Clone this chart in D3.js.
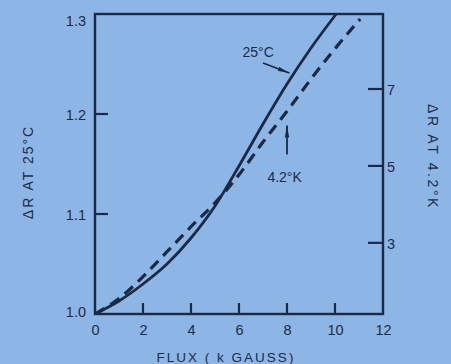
<!DOCTYPE html>
<html>
<head>
<meta charset="utf-8">
<script src="https://cdn.jsdelivr.net/npm/d3@7"></script>
<style>
  html, body { margin: 0; padding: 0; background: #8db6e7; }
  svg { display: block; }
  text { font-family: "Liberation Sans", Arial, sans-serif; fill: #1e2a47; }
</style>
</head>
<body>
<div id="chart"></div>
<script>
// ---- data ----
const fluxTicks = [0, 2, 4, 6, 8, 10, 12];
const leftTicks = [1.0, 1.1, 1.2, 1.3];
const rightTicks = [3, 5, 7];

const flux25C   = [0, 1, 2, 3, 4, 5, 6, 7, 8, 9, 10.05];
const dR25C     = [1.000, 1.013, 1.030, 1.050, 1.076, 1.108, 1.148, 1.190, 1.230, 1.266, 1.300];

const flux42K   = [0, 1, 2, 3, 4, 5, 6, 7, 8, 9, 10, 11.05];
const dR42K     = [1.15, 1.55, 2.12, 2.77, 3.42, 4.04, 4.77, 5.62, 6.42, 7.26, 8.05, 8.82];

const xTitle = "FLUX ( k GAUSS)";
const yLeftTitle = "\u0394R AT 25\u00B0C";
const yRightTitle = "\u0394R AT 4.2\u00B0K";

// annotations (data coords)
const ann25 = { label: "25\u00B0C", labelFlux: 6.8, labelVal: 1.262, fromFlux: 7.0, fromVal: 1.251, toFlux: 8.1, toVal: 1.241 };
const ann42 = { label: "4.2\u00B0K", labelFlux: 7.9, labelR: 4.7, fromR: 5.3, toR: 6.05, flux: 8.0 };

// ---- chart ----
const W = 451, H = 364;
const ink = "#1c2944";
const svg = d3.select("#chart").append("svg").attr("width", W).attr("height", H);

const x = d3.scaleLinear().domain([0, 12]).range([95, 383]);
const yL = d3.scaleLinear().domain([1.0, 1.3]).range([314, 14]);
const yR = d3.scaleLinear().domain([1.15, 8.95]).range([314, 14]);

// x axis ticks (inward)
const xAxis = d3.axisBottom(x).tickValues(fluxTicks).tickSize(0).tickPadding(12)
  .tickFormat(d3.format("d"));
const gx = svg.append("g").attr("transform", `translate(0,${yL(1.0)})`).call(xAxis);
gx.select(".domain").remove();
gx.selectAll("text").attr("font-size", 14.5).style("fill", "#1e2a47").attr("dy", "0.6em");
svg.append("g").selectAll("line").data(fluxTicks.filter(d => d > 0 && d < 12)).join("line")
  .attr("x1", d => x(d)).attr("x2", d => x(d))
  .attr("y1", yL(1.0)).attr("y2", yL(1.0) - 11)
  .attr("stroke", ink).attr("stroke-width", 2.2);

// left axis
const yAxisL = d3.axisLeft(yL).tickValues(leftTicks).tickSize(0).tickPadding(9)
  .tickFormat(d3.format(".1f"));
const gl = svg.append("g").attr("transform", `translate(${x(0)},0)`).call(yAxisL);
gl.select(".domain").remove();
gl.selectAll("text").attr("font-size", 14.5).style("fill", "#1e2a47")
  .attr("dy", d => d === 1.3 ? "0.8em" : (d === 1.0 ? "0.2em" : "0.4em"));
svg.append("g").selectAll("line").data(leftTicks.filter(d => d > 1.0 && d < 1.3)).join("line")
  .attr("x1", x(0)).attr("x2", x(0) + 13)
  .attr("y1", d => yL(d)).attr("y2", d => yL(d))
  .attr("stroke", ink).attr("stroke-width", 2.2);

// right axis
const yAxisR = d3.axisRight(yR).tickValues(rightTicks).tickSize(0).tickPadding(4)
  .tickFormat(d3.format("d"));
const gr = svg.append("g").attr("transform", `translate(${x(12)},0)`).call(yAxisR);
gr.select(".domain").remove();
gr.selectAll("text").attr("font-size", 14.5).style("fill", "#1e2a47").attr("dy", "0.38em");
svg.append("g").selectAll("line").data(rightTicks).join("line")
  .attr("x1", x(12) - 15).attr("x2", x(12))
  .attr("y1", d => yR(d)).attr("y2", d => yR(d))
  .attr("stroke", ink).attr("stroke-width", 2.2);

// frame
svg.append("rect").attr("x", x(0)).attr("y", yL(1.3))
  .attr("width", x(12) - x(0)).attr("height", yL(1.0) - yL(1.3))
  .attr("fill", "none").attr("stroke", ink).attr("stroke-width", 2.4);

// curves
const clipId = "plotclip";
svg.append("clipPath").attr("id", clipId).append("rect")
  .attr("x", x(0)).attr("y", yL(1.3) - 1).attr("width", x(12) - x(0)).attr("height", yL(1.0) - yL(1.3) + 2);

const line25 = d3.line().x((d, i) => x(flux25C[i])).y(d => yL(d)).curve(d3.curveMonotoneX);
svg.append("path").attr("d", line25(dR25C)).attr("clip-path", `url(#${clipId})`)
  .attr("fill", "none").attr("stroke", ink).attr("stroke-width", 2.8);

const line42 = d3.line().x((d, i) => x(flux42K[i])).y(d => yR(d)).curve(d3.curveMonotoneX);
svg.append("path").attr("d", line42(dR42K)).attr("clip-path", `url(#${clipId})`)
  .attr("fill", "none").attr("stroke", ink).attr("stroke-width", 3.2)
  .attr("stroke-dasharray", "11,7");

// annotations
svg.append("defs").append("marker").attr("id", "arr").attr("viewBox", "0 0 12 6")
  .attr("refX", 12).attr("refY", 3).attr("markerWidth", 12).attr("markerHeight", 6)
  .attr("markerUnits", "userSpaceOnUse").attr("orient", "auto")
  .append("path").attr("d", "M0,0.8 L12,3 L0,5.2 Z").attr("fill", ink);

svg.append("text").attr("x", x(ann25.labelFlux)).attr("y", yL(ann25.labelVal))
  .attr("text-anchor", "middle").attr("font-size", 14).attr("dy", "0.35em").text(ann25.label);
svg.append("line").attr("x1", x(ann25.fromFlux)).attr("y1", yL(ann25.fromVal))
  .attr("x2", x(ann25.toFlux)).attr("y2", yL(ann25.toVal))
  .attr("stroke", ink).attr("stroke-width", 1.8).attr("marker-end", "url(#arr)");

svg.append("text").attr("x", x(ann42.labelFlux)).attr("y", yR(ann42.labelR))
  .attr("text-anchor", "middle").attr("font-size", 14).attr("dy", "0.35em").text(ann42.label);
svg.append("line").attr("x1", x(ann42.flux)).attr("y1", yR(ann42.fromR))
  .attr("x2", x(ann42.flux)).attr("y2", yR(ann42.toR))
  .attr("stroke", ink).attr("stroke-width", 1.8).attr("marker-end", "url(#arr)");

// axis titles
svg.append("text").attr("x", (x(0) + x(12)) / 2 - 13).attr("y", 362)
  .attr("text-anchor", "middle").attr("font-size", 13.5).attr("letter-spacing", "2px")
  .text(xTitle);
svg.append("text").attr("transform", `translate(33,172) rotate(-90)`)
  .attr("text-anchor", "middle").attr("font-size", 14).attr("letter-spacing", "2px")
  .text(yLeftTitle);
svg.append("text").attr("transform", `translate(428,157) rotate(90)`)
  .attr("text-anchor", "middle").attr("font-size", 14).attr("letter-spacing", "2.6px")
  .text(yRightTitle);
</script>
</body>
</html>
